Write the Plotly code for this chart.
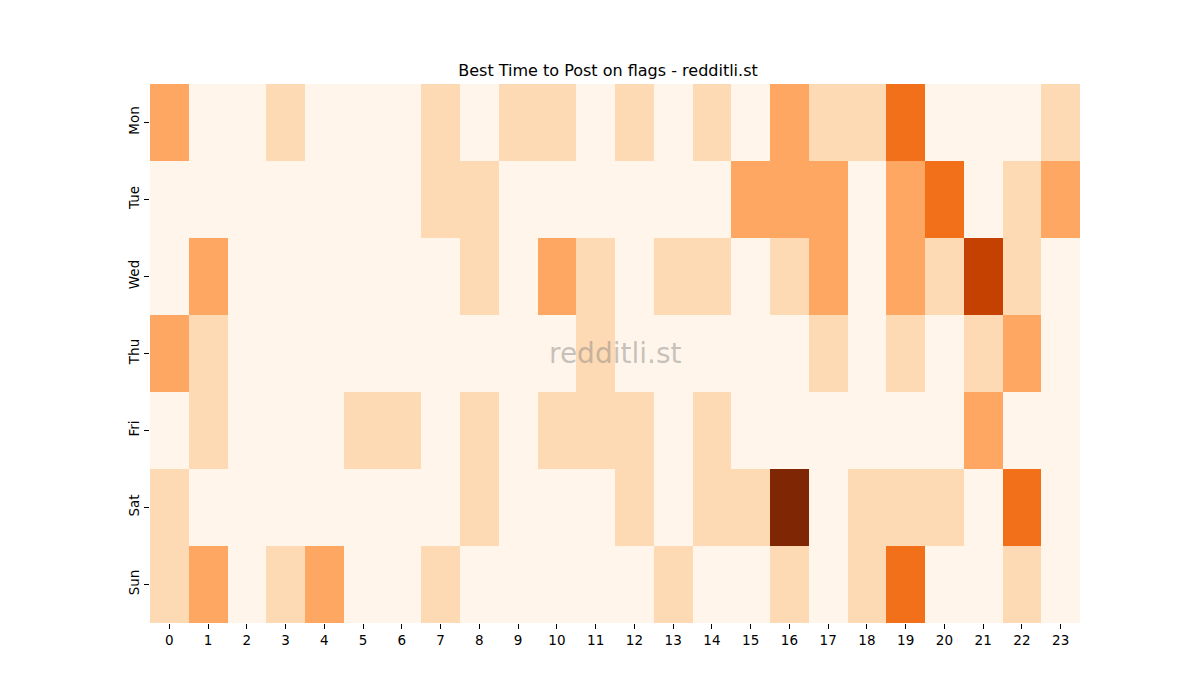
import plotly.graph_objects as go

days = ["Mon", "Tue", "Wed", "Thu", "Fri", "Sat", "Sun"]
hours = list(range(24))

mon = [2,0,0,1,0,0,0,1,0,1,1,0,1,0,1,0,2,1,1,3,0,0,0,1]
tue = [0,0,0,0,0,0,0,1,1,0,0,0,0,0,0,2,2,2,0,2,3,0,1,2]
wed = [0,2,0,0,0,0,0,0,1,0,2,1,0,1,1,0,1,2,0,2,1,4,1,0]
thu = [2,1,0,0,0,0,0,0,0,0,0,1,0,0,0,0,0,1,0,1,0,1,2,0]
fri = [0,1,0,0,0,1,1,0,1,0,1,1,1,0,1,0,0,0,0,0,0,2,0,0]
sat = [1,0,0,0,0,0,0,0,1,0,0,0,1,0,1,1,5,0,1,1,1,0,3,0]
sun = [1,2,0,1,2,0,0,1,0,0,0,0,0,1,0,0,1,0,1,3,0,0,1,0]

z = [mon, tue, wed, thu, fri, sat, sun]

fig = go.Figure(go.Heatmap(
    z=z, x=hours, y=days,
    colorscale="Oranges", zmin=0, zmax=5,
    showscale=False, xgap=0, ygap=0, hoverinfo="x+y+z",
))

font = "DejaVu Sans"
fig.update_layout(
    width=1200, height=700,
    margin=dict(l=142, r=128, t=76, b=85),
    plot_bgcolor="white", paper_bgcolor="white",
    font=dict(family=font, size=13, color="black"),
    title=dict(text="Best Time to Post on flags - redditli.st", x=0.5, xanchor="center",
               y=1 - 62/700, yanchor="middle", font=dict(size=16, family=font, color="black")),
    xaxis=dict(tickmode="array", tickvals=hours, ticktext=[str(h) for h in hours],
               ticks="outside", ticklen=5, tickcolor="black", showgrid=False, zeroline=False,
               showline=False, range=[-0.5, 23.5], tickfont=dict(size=13.5)),
    yaxis=dict(autorange="reversed", ticks="outside", ticklen=5, tickcolor="black",
               tickangle=-90, showgrid=False, zeroline=False, showline=False,
               tickfont=dict(size=13.5)),
)
fig.add_annotation(text="redditli.st", x=0.5, y=0.5, xref="paper", yref="paper",
                   showarrow=False, font=dict(size=28, family=font, color="rgba(128,128,128,0.45)"))

fig.write_html("out.html")
